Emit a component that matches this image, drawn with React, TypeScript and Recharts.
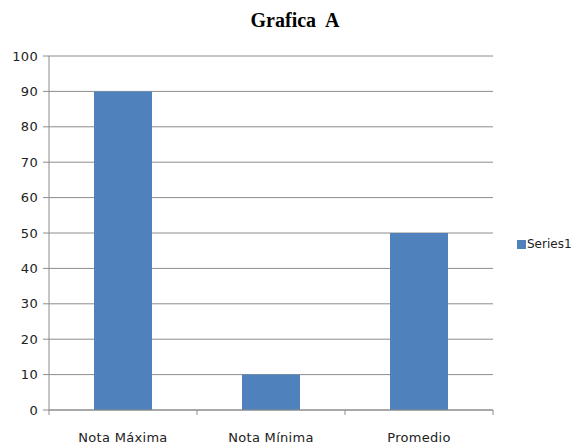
import { BarChart, Bar, XAxis, YAxis, CartesianGrid, Legend } from 'recharts';

const categories = ['Nota Máxima', 'Nota Mínima', 'Promedio'];
const series1 = [90, 10, 50];
const yTicks = [0, 10, 20, 30, 40, 50, 60, 70, 80, 90, 100];

const data = categories.map((name, i) => ({ name, Series1: series1[i] }));

const tickStyle = { fontFamily: 'DejaVu Sans', fontSize: 13, fill: '#222', letterSpacing: 0.3 };
const axisColor = '#8c8c8c';

// category ticks sit between the bands, like the spreadsheet chart
const CategoryTick = (props: any) => {
  const { x, y, payload, index, visibleTicksCount } = props;
  const half = payload.offset || 0;
  const top = y - 23;
  return (
    <g>
      <line x1={x - half} x2={x - half} y1={top} y2={top + 5} stroke={axisColor} />
      {index === visibleTicksCount - 1 && (
        <line x1={x + half} x2={x + half} y1={top} y2={top + 5} stroke={axisColor} />
      )}
      <text x={x} y={y} dy="0.71em" textAnchor="middle" {...tickStyle}>
        {payload.value}
      </text>
    </g>
  );
};

const App = () => {
  return (
    <div style={{ position: 'absolute', left: 0, top: 0, width: 579, height: 446, background: '#fff' }}>
      <div
        style={{
          position: 'absolute',
          left: 0,
          width: 590,
          top: 9,
          textAlign: 'center',
          fontFamily: 'Liberation Serif',
          fontWeight: 'bold',
          fontSize: 20,
          color: '#000',
          whiteSpace: 'pre',
        }}
      >
        {'Grafica  A'}
      </div>
      <BarChart
        width={579}
        height={446}
        data={data}
        margin={{ top: 56, right: 86, bottom: 6, left: 9 }}
      >
        <CartesianGrid vertical={false} stroke={axisColor} strokeWidth={1} />
        <XAxis
          dataKey="name"
          height={30}
          stroke={axisColor}
          tickLine={false}
          tickSize={5}
          tickMargin={18}
          tick={<CategoryTick />}
          interval={0}
        />
        <YAxis
          width={40}
          domain={[0, 100]}
          ticks={yTicks}
          interval={0}
          stroke={axisColor}
          tickSize={6}
          tickMargin={5}
          tick={tickStyle}
        />
        <Legend
          layout="horizontal"
          verticalAlign="middle"
          align="center"
          iconType="square"
          iconSize={9}
          wrapperStyle={{ left: 517, top: 234, width: 'auto' }}
          formatter={(value) => (
            <span style={{ color: '#222', fontFamily: 'DejaVu Sans', fontSize: 12, marginLeft: -3 }}>{value}</span>
          )}
        />
        <Bar dataKey="Series1" fill="#4f81bd" barSize={58} isAnimationActive={false} />
      </BarChart>
    </div>
  );
};

export default App;
